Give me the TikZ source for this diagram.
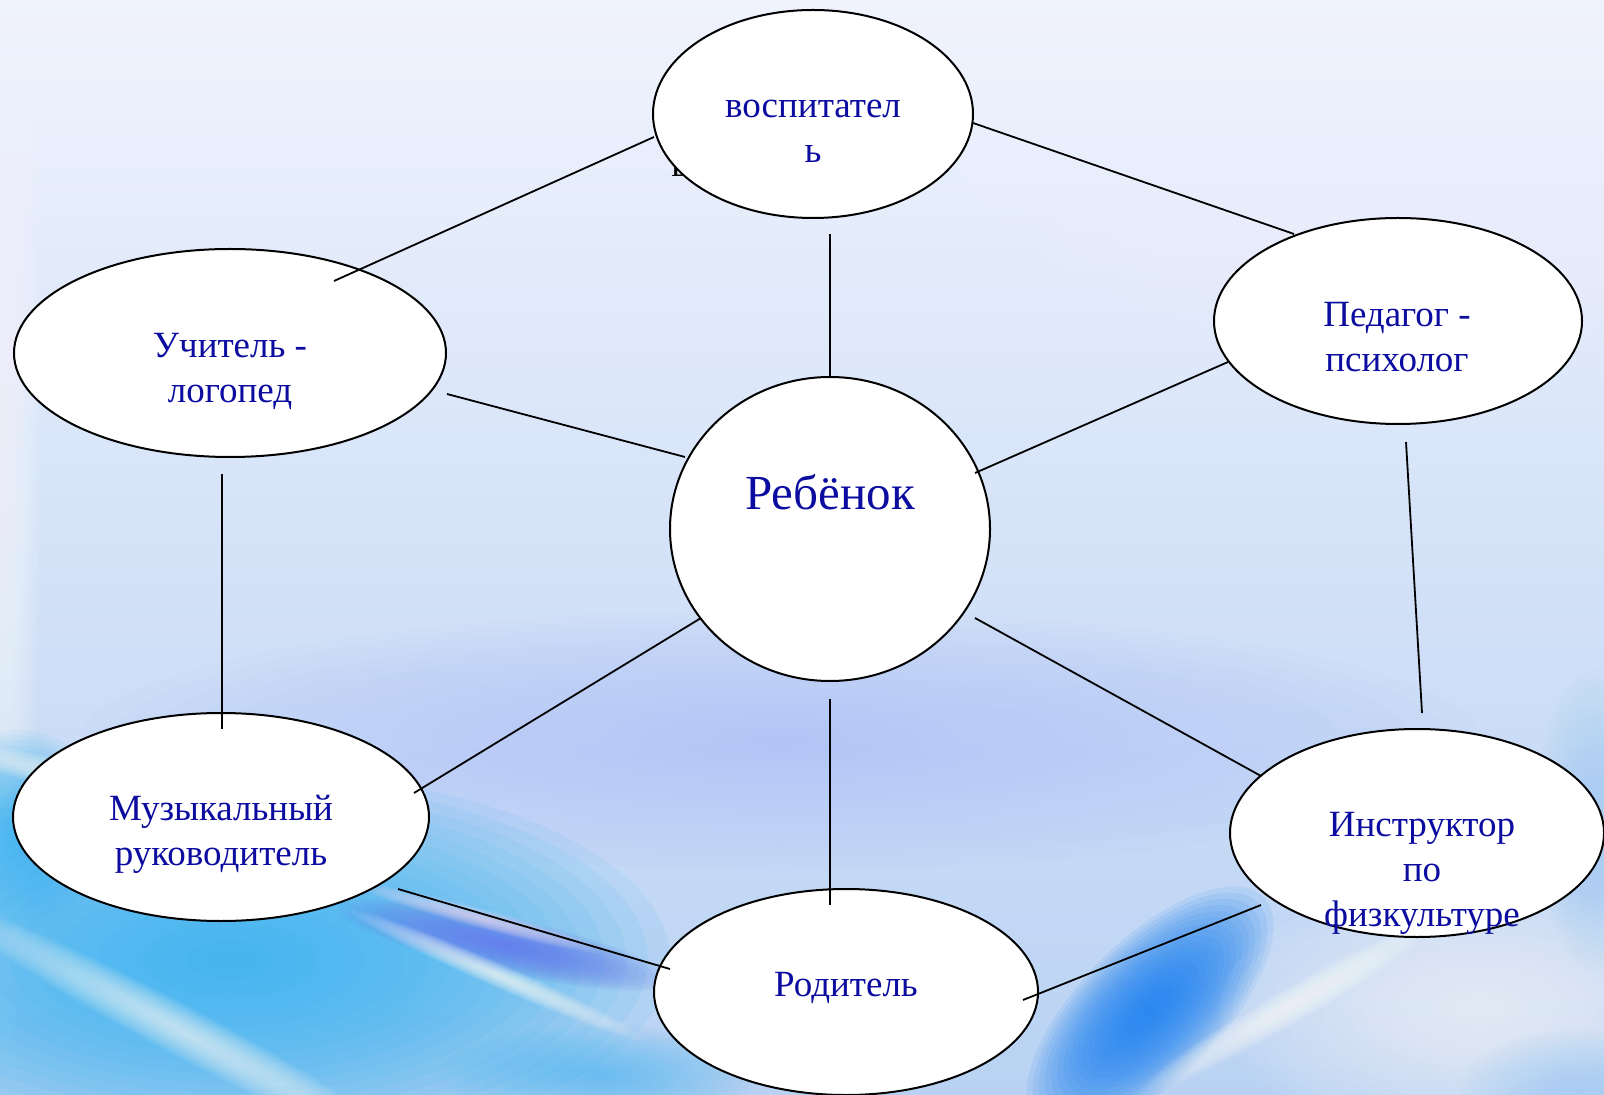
\documentclass[tikz,border=0pt]{standalone}
\usepackage{fontspec}
\setmainfont{Liberation Serif}
\usetikzlibrary{shapes.geometric}
\definecolor{txtblue}{RGB}{12,12,160}
\definecolor{bgtop}{RGB}{240,243,253}
\definecolor{bgmid}{RGB}{220,226,250}
\definecolor{bgbot}{RGB}{185,210,243}
\definecolor{cyanb}{RGB}{55,180,240}
\definecolor{purpb}{RGB}{100,120,235}
\definecolor{pinkw}{RGB}{240,222,250}
\definecolor{deepb}{RGB}{30,130,240}
\definecolor{lavb}{RGB}{170,188,246}
\definecolor{lightb}{RGB}{160,205,242}
% soft blob: colour, cx, cy, rx, ry, visual angle (clockwise), opacity per layer
\newcommand\softblob[7]{%
  \foreach \kk in {0,...,19}{%
    \fill[#1, fill opacity=#7, rotate around={-#6:(#2,#3)}]
      (#2,#3) ellipse [x radius={#4*(1-\kk/20)}, y radius={#5*(1-\kk/20)}];
  }}
\begin{document}
\begin{tikzpicture}[x=0.5pt,y=-0.5pt,
  bubble/.style={ellipse, draw=black, line width=1pt, fill=white, inner sep=0pt, outer sep=0pt},
  lbl/.style={text=txtblue, font=\fontsize{18.5}{22.5}\selectfont, align=center, inner sep=0pt},
  biglbl/.style={text=txtblue, font=\fontsize{24.5}{29}\selectfont, align=center, inner sep=0pt},
  link/.style={draw=black, line width=0.9pt}]
\useasboundingbox (0,0) rectangle (1604,1095);
% background
\shade[top color=bgtop, middle color=bgmid, bottom color=bgbot] (0,0) rectangle (1604,1095);
\begin{scope}
\clip (0,0) rectangle (1604,1095);
\softblob{white}{1450}{80}{520}{280}{0}{0.045}
\softblob{white}{5}{450}{35}{600}{0}{0.05}
\softblob{lavb}{780}{740}{700}{130}{0}{0.04}
\softblob{cyanb}{230}{960}{440}{190}{0}{0.09}
\softblob{cyanb}{20}{830}{90}{100}{0}{0.07}
\softblob{cyanb}{600}{1075}{160}{50}{0}{0.04}
\softblob{white}{180}{1030}{260}{25}{28}{0.05}
\softblob{white}{60}{775}{120}{15}{15}{0.05}
\softblob{purpb}{505}{945}{170}{28}{12.5}{0.08}
\softblob{pinkw}{480}{918}{130}{10}{15}{0.06}
\softblob{white}{497}{975}{160}{12}{23.6}{0.06}
\softblob{deepb}{1150}{1010}{160}{70}{-45}{0.10}
\softblob{white}{1287}{1008}{170}{18}{-30}{0.06}
\softblob{white}{1480}{1010}{260}{130}{0}{0.05}
\softblob{lightb}{1580}{1090}{120}{60}{0}{0.05}
\softblob{lightb}{1595}{820}{60}{150}{0}{0.05}
\end{scope}
% stray glyph behind the top ellipse
\node[anchor=base west, inner sep=0pt, font=\fontsize{18.5}{22.5}\selectfont, text=black] (stray) at (671,177) {ь};
% connector end points
\coordinate (a1) at (334,281);  \coordinate (a2) at (654,137);
\coordinate (b1) at (973,123);  \coordinate (b2) at (1294,234);
\coordinate (c1) at (830,234);  \coordinate (c2) at (830,377);
\coordinate (d1) at (447,394);  \coordinate (d2) at (685,457);
\coordinate (e1) at (975,473);  \coordinate (e2) at (1228,362);
\coordinate (f1) at (222,474);  \coordinate (f2) at (222,729);
\coordinate (g1) at (1406,442); \coordinate (g2) at (1422,713);
\coordinate (h1) at (701,618);  \coordinate (h2) at (414,793);
\coordinate (i1) at (975,618);  \coordinate (i2) at (1261,776);
\coordinate (j1) at (830,699);  \coordinate (j2) at (830,905);
\coordinate (k1) at (398,889);  \coordinate (k2) at (670,969);
\coordinate (l1) at (1261,905); \coordinate (l2) at (1023,1000);
% ellipses
\node[bubble, minimum width=160pt, minimum height=104pt] (vosp) at (813,114) {};
\node[bubble, minimum width=216pt, minimum height=104pt] (logo) at (230,353) {};
\node[bubble, minimum width=184pt, minimum height=103pt] (psy) at (1398,321) {};
\node[bubble, minimum width=160pt, minimum height=152pt] (child) at (830,529) {};
\node[bubble, minimum width=208pt, minimum height=104pt] (muz) at (221,817) {};
\node[bubble, minimum width=187pt, minimum height=104pt] (instr) at (1417,833) {};
\node[bubble, minimum width=192pt, minimum height=103pt] (rod) at (846,992) {};
% connectors
\draw[link] (a1) -- (a2);
\draw[link] (b1) -- (b2);
\draw[link] (c1) -- (c2);
\draw[link] (d1) -- (d2);
\draw[link] (e1) -- (e2);
\draw[link] (f1) -- (f2);
\draw[link] (g1) -- (g2);
\draw[link] (h1) -- (h2);
\draw[link] (i1) -- (i2);
\draw[link] (j1) -- (j2);
\draw[link] (k1) -- (k2);
\draw[link] (l1) -- (l2);
% labels
\node[lbl] (tvosp) at (813,131) {воспитател\\ь};
\node[lbl] (tlogo) at (230,371) {Учитель -\\логопед};
\node[lbl] (tpsy) at (1397,337) {Педагог -\\психолог};
\node[biglbl] (tchild) at (830,492) {Ребёнок};
\node[lbl] (tmuz) at (221,834) {Музыкальный\\руководитель};
\node[lbl] (tinstr) at (1422,873) {Инструктор\\по\\физкультуре};
\node[lbl] (trod) at (846,988) {Родитель};
\end{tikzpicture}
\end{document}
